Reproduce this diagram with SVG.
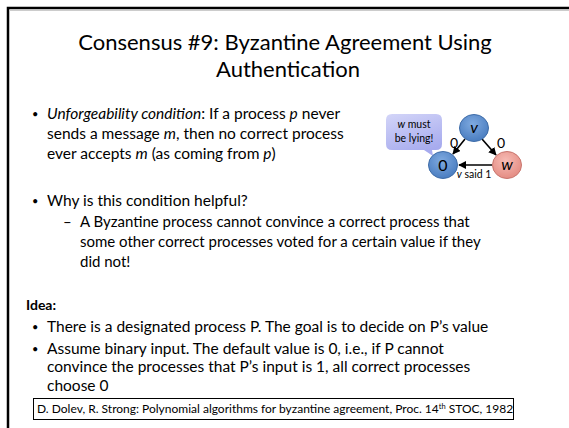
<svg xmlns="http://www.w3.org/2000/svg" width="569" height="428" viewBox="0 0 569 428">
<defs>
<style>
.t{font-family:Lato,"Open Sans","DejaVu Sans",sans-serif;fill:#000}
.title{font-size:22px;text-anchor:middle}
.b{font-size:15.5px}
.s{font-size:15px}
.d{font-size:11px}
.n{font-size:16px;text-anchor:middle}
.lbl{font-size:14px;text-anchor:middle}
.sm{font-size:10.5px;text-anchor:middle}
.edge{stroke:#000;stroke-width:1.6;fill:none;marker-end:url(#ah)}
.nb{fill:url(#gb);stroke:#3E6CA8;stroke-width:1}
</style>
<marker id="ah" viewBox="0 0 10 10" refX="9" refY="5" markerWidth="5" markerHeight="5" orient="auto">
<path d="M0,0 L10,5 L0,10 z" fill="#000"/>
</marker>
<radialGradient id="gb" cx="45%" cy="35%" r="65%">
<stop offset="0" stop-color="#7FAAE0"/>
<stop offset="1" stop-color="#4A7DC0"/>
</radialGradient>
<radialGradient id="gp" cx="45%" cy="35%" r="65%">
<stop offset="0" stop-color="#F7BCB5"/>
<stop offset="1" stop-color="#E48C83"/>
</radialGradient>
<linearGradient id="gl" x1="0" y1="0" x2="0.4" y2="1">
<stop offset="0" stop-color="#D3D5F8"/>
<stop offset="1" stop-color="#A7ABEE"/>
</linearGradient>
</defs>
<rect width="569" height="428" fill="#fff"/>
<path d="M8,428 V8 H569" fill="none" stroke="#000" stroke-width="2.5"/>
<line x1="9.5" y1="10.5" x2="569" y2="10.5" stroke="#ccc" stroke-width="1"/>

<g id="title">
<text class="t title" x="285" y="50">Consensus #9: Byzantine Agreement Using</text>
<text class="t title" x="288" y="77">Authentication</text>
</g>

<g id="body">
<text class="t d" x="32" y="118">•</text>
<text class="t b" x="47" y="119"><tspan font-style="italic">Unforgeability condition</tspan>: If a process <tspan font-style="italic">p</tspan> never</text>
<text class="t b" x="47" y="139">sends a message <tspan font-style="italic">m</tspan>, then no correct process</text>
<text class="t b" x="47" y="159">ever accepts <tspan font-style="italic">m</tspan> (as coming from <tspan font-style="italic">p</tspan>)</text>
<text class="t d" x="32" y="205">•</text>
<text class="t b" x="47" y="206">Why is this condition helpful?</text>
<text class="t s" x="63" y="227">–</text>
<text class="t s" x="80" y="227">A Byzantine process cannot convince a correct process that</text>
<text class="t s" x="80" y="247">some other correct processes voted for a certain value if they</text>
<text class="t s" x="80" y="267">did not!</text>
<text class="t" x="26" y="310" font-size="14" font-weight="bold">Idea:</text>
<text class="t d" x="32" y="331">•</text>
<text class="t b" x="47" y="332">There is a designated process P. The goal is to decide on P’s value</text>
<text class="t d" x="32" y="353">•</text>
<text class="t b" x="47" y="354">Assume binary input. The default value is 0, i.e., if P cannot</text>
<text class="t b" x="47" y="372">convince the processes that P’s input is 1, all correct processes</text>
<text class="t b" x="47" y="391">choose 0</text>
</g>

<g id="reference">
<rect x="33.5" y="398.5" width="480" height="21" fill="#fff" stroke="#000" stroke-width="1"/>
<text class="t" x="37" y="413" font-size="12">D. Dolev, R. Strong: Polynomial algorithms for byzantine agreement, Proc. 14<tspan font-size="7.5" dy="-4">th</tspan><tspan dy="4"> STOC, 1982</tspan></text>
</g>

<g id="connectors">
<line class="edge" x1="465" y1="139" x2="453" y2="154"/>
<line class="edge" x1="482" y1="139" x2="496" y2="155"/>
<line class="edge" x1="492" y1="165" x2="459" y2="165"/>
</g>
<g id="edge-labels">
<text class="t lbl" x="454" y="148">0</text>
<text class="t lbl" x="501" y="148">0</text>
<text class="t sm" x="474" y="178"><tspan font-style="italic">v</tspan> said 1</text>
</g>

<g id="bubble">
<path d="M392,114 H436 Q442,114 442,120 V144 Q442,150 436,150 H432 L433,156 L424,150 H392 Q386,150 386,144 V120 Q386,114 392,114 Z" fill="url(#gl)"/>
<text class="t sm" x="414" y="128"><tspan font-style="italic">w</tspan> must</text>
<text class="t sm" x="414" y="142">be lying!</text>
</g>

<g id="node-v">
<ellipse class="nb" cx="474" cy="128" rx="14.5" ry="13.5"/>
<text class="t n" x="474" y="133" font-style="italic">v</text>
</g>
<g id="node-0">
<ellipse class="nb" cx="443" cy="165" rx="14.5" ry="13.5"/>
<text class="t n" x="443" y="171">0</text>
</g>
<g id="node-w">
<ellipse cx="507" cy="165" rx="14.5" ry="13.5" fill="url(#gp)" stroke="#C9766E" stroke-width="1"/>
<text class="t n" x="507" y="170" font-style="italic">w</text>
</g>
</svg>
